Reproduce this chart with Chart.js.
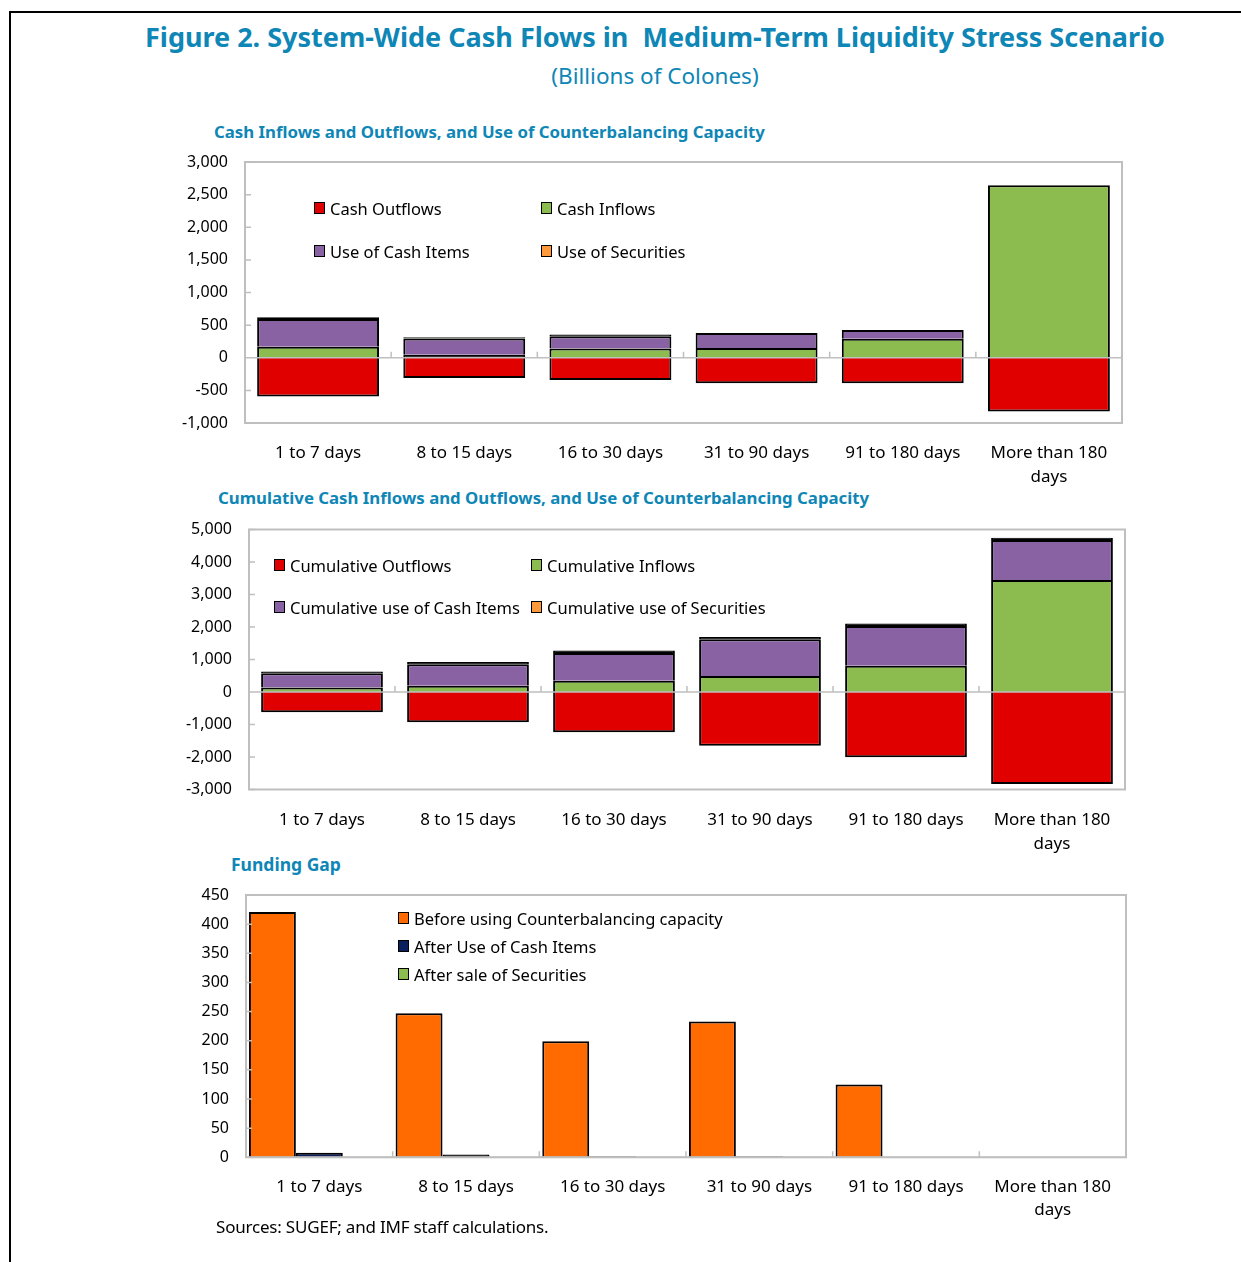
<!DOCTYPE html>
<html>
<head>
<meta charset="utf-8">
<script src="https://cdn.jsdelivr.net/npm/chart.js@4.4.1/dist/chart.umd.min.js"></script>
<style>
body { margin: 0; background: #fff; font-family: "Noto Sans", sans-serif; }
#page { position: relative; width: 1241px; height: 1262px; overflow: hidden; background: #fff; }
#frame { position: absolute; left: 9px; top: 11px; width: 1300px; height: 1300px; border-left: 2px solid #000; border-top: 2px solid #000; }
.t { position: absolute; white-space: nowrap; color: #0e86b6; }
.title { left: 0; width: 1310px; text-align: center; top: 18px; font-size: 27px; font-weight: bold; }
.sub { left: 0; width: 1310px; text-align: center; top: 60px; font-size: 22.5px; }
.head { font-size: 16.8px; font-weight: bold; }
.src { position: absolute; left: 216px; top: 1215px; font-size: 17px; color: #000; white-space: nowrap; letter-spacing: -0.2px; }
canvas { position: absolute; }
.lg { position: absolute; display: flex; align-items: center; height: 20px; font-size: 16.5px; color: #000; white-space: nowrap; }
.lg span.b { display: inline-block; width: 9px; height: 10px; border: 1.5px solid #000; margin-right: 5px; }
</style>
</head>
<body>
<div id="page">
  <div id="frame"></div>
  <div class="t title">Figure 2. System-Wide Cash Flows in &nbsp;Medium-Term Liquidity Stress Scenario</div>
  <div class="t sub">(Billions of Colones)</div>
  <div class="t head" style="left:214px; top:120px;">Cash Inflows and Outflows, and Use of Counterbalancing Capacity</div>
  <div class="t head" style="left:218px; top:486px;">Cumulative Cash Inflows and Outflows, and Use of Counterbalancing Capacity</div>
  <div class="t head" style="left:231px; top:852px; font-size:17.5px;">Funding Gap</div>
  <canvas id="c1" width="1000" height="340" style="left:150px; top:150px;"></canvas>
  <canvas id="c2" width="1000" height="340" style="left:150px; top:517px;"></canvas>
  <canvas id="c3" width="1000" height="340" style="left:150px; top:883px;"></canvas>
  <div id="legends"></div>
  <div class="src">Sources: SUGEF; and IMF staff calculations.</div>
</div>
<script>
// data
let labels = ['1 to 7 days', '8 to 15 days', '16 to 30 days', '31 to 90 days', '91 to 180 days', ['More than 180', 'days']];

let flowOut = [-595, -310, -340, -390, -390, -825];
let flowIn = [170, 45, 140, 150, 290, 2645];
let flowCash = [425, 250, 190, 230, 135, 0];
let flowSec = [25, 20, 25, 0, 0, 0];

let cumOut = [-620, -930, -1240, -1650, -2010, -2830];
let cumIn = [140, 195, 350, 490, 810, 3445];
let cumCash = [440, 660, 850, 1130, 1220, 1230];
let cumSec = [50, 65, 75, 75, 75, 75];

let gapBefore = [421, 247, 199, 233, 125, 0];
let gapCash = [8, 5, 2, 2, 0, 0];
let gapSec = [0, 0, 1, 1, 0, 0];

let red = '#e00000';
let green = '#8cbb50';
let purple = '#8962a3';
let secOrange = '#ff9a3c';
let orange = '#ff6b00';
let navy = '#0b1f5c';
let font = '"Noto Sans", sans-serif';

// plot frame, zero line and the little tick marks
let framePlugin =
{
  id: 'frame',
  afterDatasetsDraw(chart)
  {
    let ctx = chart.ctx;
    let a = chart.chartArea;
    let x = chart.scales.x;
    let y = chart.scales.y;
    ctx.save();
    ctx.strokeStyle = '#bfbfbf';
    ctx.lineWidth = 2;
    ctx.strokeRect(a.left, a.top, a.right - a.left, a.bottom - a.top);
    ctx.lineWidth = 1.5;
    ctx.beginPath();
    for (let t of y.ticks)
    {
      let py = y.getPixelForValue(t.value);
      ctx.moveTo(a.left, py);
      ctx.lineTo(a.left + 6, py);
    }
    let zy = y.getPixelForValue(0);
    ctx.moveTo(a.left, zy);
    ctx.lineTo(a.right, zy);
    for (let i = 1; i < labels.length; i++)
    {
      let px = (x.getPixelForValue(i - 1) + x.getPixelForValue(i)) / 2;
      ctx.moveTo(px, zy);
      ctx.lineTo(px, zy - 6);
    }
    ctx.stroke();
    ctx.restore();
  }
};

// hairline bars only show their outline, as in the original
function fill(color)
{
  return (c) =>
  {
    let y = c.chart.scales.y;
    let v = c.raw;
    if (c.type == 'data' && y && Math.abs(y.getPixelForValue(0) - y.getPixelForValue(v)) < 3)
    {
      return '#000';
    }
    return color;
  };
}

function bars(label, data, color)
{
  return {label: label, data: data, backgroundColor: fill(color), borderColor: '#000', borderWidth: 2};
}

function makeChart(id, sets, stacked, yMin, yMax, yStep, catPct, box)
{
  return new Chart(document.getElementById(id),
  {
    type: 'bar',
    data: {labels: labels, datasets: sets},
    plugins: [framePlugin],
    options:
    {
      responsive: false,
      animation: false,
      layout: {padding: {top: box.top, right: box.right, left: 0, bottom: 0}},
      plugins: {legend: {display: false}, tooltip: {enabled: false}},
      datasets: {bar: {categoryPercentage: catPct, barPercentage: 1}},
      scales:
      {
        x:
        {
          stacked: stacked,
          grid: {display: false, drawTicks: false},
          border: {display: false},
          ticks: {color: '#000', font: {family: font, size: 17, lineHeight: 1.4}, padding: box.xPad, maxRotation: 0, autoSkip: false},
          afterFit: (s) => { s.height = box.xh; s.paddingLeft = 0; s.paddingRight = 0; }
        },
        y:
        {
          stacked: stacked,
          min: yMin,
          max: yMax,
          grid: {display: false, drawTicks: false},
          border: {display: false},
          ticks: {stepSize: yStep, color: '#000', font: {family: font, size: 16}, padding: 17, callback: (v) => v.toLocaleString('en-US')},
          afterFit: (s) => { s.width = box.yw; s.paddingTop = 0; s.paddingBottom = 0; }
        }
      }
    }
  });
}

makeChart('c1',
[
  bars('Cash Outflows', flowOut, red),
  bars('Cash Inflows', flowIn, green),
  bars('Use of Cash Items', flowCash, purple),
  bars('Use of Securities', flowSec, secOrange)
], true, -1000, 3000, 500, 0.834, {top: 12, right: 28, yw: 95, xh: 67, xPad: 18});

makeChart('c2',
[
  bars('Cumulative Outflows', cumOut, red),
  bars('Cumulative Inflows', cumIn, green),
  bars('Cumulative use of Cash Items', cumCash, purple),
  bars('Cumulative use of Securities', cumSec, secOrange)
], true, -3000, 5000, 1000, 0.834, {top: 12.5, right: 25, yw: 99, xh: 67.5, xPad: 18.5});

makeChart('c3',
[
  bars('Before using Counterbalancing capacity', gapBefore, orange),
  bars('After Use of Cash Items', gapCash, navy),
  bars('After sale of Securities', gapSec, green)
], false, 0, 450, 50, 0.96, {top: 12, right: 24, yw: 96, xh: 65.7, xPad: 17.5});

// legends drawn as html over the plots
let legendItems =
[
  ['Cash Outflows', red, 314, 208], ['Cash Inflows', green, 541, 208],
  ['Use of Cash Items', purple, 314, 251], ['Use of Securities', secOrange, 541, 251],
  ['Cumulative Outflows', red, 274, 565], ['Cumulative Inflows', green, 531, 565],
  ['Cumulative use of Cash Items', purple, 274, 607], ['Cumulative use of Securities', secOrange, 531, 607],
  ['Before using Counterbalancing capacity', orange, 398, 918],
  ['After Use of Cash Items', navy, 398, 946],
  ['After sale of Securities', green, 398, 974]
];
let lg = document.getElementById('legends');
for (let [text, color, x, y] of legendItems)
{
  let d = document.createElement('div');
  d.className = 'lg';
  d.style.left = x + 'px';
  d.style.top = (y - 10) + 'px';
  d.innerHTML = '<span class="b" style="background:' + color + '"></span>' + text;
  lg.appendChild(d);
}
</script>
</body>
</html>
